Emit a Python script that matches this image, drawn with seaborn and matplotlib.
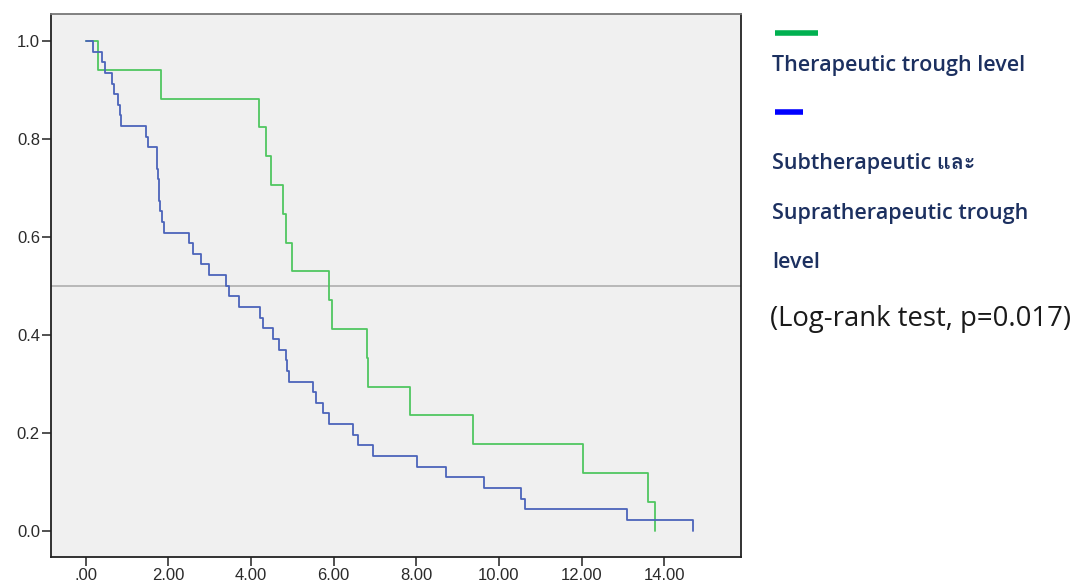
import numpy as np
import pandas as pd
import matplotlib
matplotlib.use("Agg")
from matplotlib import pyplot as plt
from matplotlib import font_manager
from matplotlib.ft2font import FT2Font
import seaborn as sns

# event times, one per patient leaving the curve
therapeutic_times = [0.29, 1.82, 4.20, 4.36, 4.49, 4.78, 4.85, 4.99, 5.89, 5.96,
                     6.80, 6.84, 7.86, 9.37, 12.03, 13.61, 13.78]
other_times = [0.18, 0.40, 0.47, 0.64, 0.69, 0.77, 0.83, 0.86,
               1.47, 1.50,
               1.72, 1.73, 1.75, 1.77, 1.78, 1.81, 1.85, 1.90,
               2.49, 2.59, 2.78, 2.99, 3.40, 3.47, 3.71, 4.22, 4.29, 4.53,
               4.69, 4.85, 4.87, 4.93,
               5.49, 5.57, 5.74, 5.90, 6.48, 6.58, 6.96,
               8.03, 8.72, 9.64, 10.53, 10.64, 13.10, 14.71]

group_names = ["Therapeutic trough level",
               "Subtherapeutic และ Supratherapeutic trough level"]
x_ticks = [0, 2, 4, 6, 8, 10, 12, 14]
x_ticklabels = [".00", "2.00", "4.00", "6.00", "8.00", "10.00", "12.00", "14.00"]
y_ticks = [0.0, 0.2, 0.4, 0.6, 0.8, 1.0]


def km_steps(times, name):
    # Kaplan-Meier without censoring: survival drops 1/n at every event
    n = len(times)
    t = [0.0] + sorted(times)
    s = [1.0] + [1.0 - (i + 1) / n for i in range(n)]
    return pd.DataFrame({"time": t, "surv": s, "group": name})


def thai_families():
    # look for any installed font that has the Thai letters
    found = []
    for f in font_manager.fontManager.ttflist:
        try:
            cmap = FT2Font(f.fname).get_charmap()
        except Exception:
            continue
        if all(ord(c) in cmap for c in "และ") and f.name not in found:
            found.append(f.name)
    return found


df = pd.concat([km_steps(therapeutic_times, group_names[0]),
                km_steps(other_times, group_names[1])], ignore_index=True)

sns.set_style("white")
plt.rcParams['font.family'] = ['Liberation Sans', 'DejaVu Sans']

fig = plt.figure(figsize=(10.77, 5.81), dpi=100)
ax = fig.add_axes([51 / 1077, 24 / 581, 690 / 1077, 543 / 581])
ax.set_facecolor("#f0f0f0")

ax.axhline(0.5, color="#b4b4b4", lw=1.3, zorder=1)

sns.lineplot(data=df, x="time", y="surv", hue="group", estimator=None, sort=False,
             drawstyle="steps-post", palette=["#50c660", "#4c64ba"], lw=1.3,
             legend=False, ax=ax, zorder=3)

ax.set_xlim(-0.84, 15.86)
ax.set_ylim(-0.054, 1.055)
ax.set_xticks(x_ticks)
ax.set_xticklabels(x_ticklabels)
ax.set_yticks(y_ticks)
ax.set_yticklabels([f"{v:.1f}" for v in y_ticks])
ax.set_xlabel("")
ax.set_ylabel("")
ax.tick_params(axis="both", direction="out", length=6.5, width=1.2, color="#333333",
               labelsize=12, labelcolor="#2a2a2a", pad=1.5,
               bottom=True, left=True)
for side in ["left", "bottom", "right", "top"]:
    ax.spines[side].set_color("#222222")
    ax.spines[side].set_linewidth(1.3)
ax.spines["top"].set_color("#777777")

# legend block drawn as text on the right
navy = "#1c3060"
leg_font = ['Open Sans'] + thai_families() + ['DejaVu Sans']
fig.add_artist(plt.Line2D([775 / 1077, 818 / 1077], [1 - 33 / 581, 1 - 33 / 581],
                          color="#00b050", lw=4, solid_capstyle="butt"))
fig.text(772 / 1077, 1 - 66 / 581, "Therapeutic trough level", color=navy,
         fontsize=15.5, fontweight="semibold", family=leg_font, va="center")
fig.add_artist(plt.Line2D([775 / 1077, 803 / 1077], [1 - 112 / 581, 1 - 112 / 581],
                          color="#0000ff", lw=4, solid_capstyle="butt"))
for y, line in [(163, "Subtherapeutic และ"), (213, "Supratherapeutic trough"),
                (262, "level")]:
    fig.text(772 / 1077, 1 - y / 581, line, color=navy, fontsize=15.5,
             fontweight="semibold", family=leg_font, va="center")
fig.text(770 / 1077, 1 - 319 / 581, "(Log-rank test, p=0.017)", color="#1a1a1a",
         fontsize=19.8, family=leg_font, va="center")

fig.savefig("out.png", dpi=100)
